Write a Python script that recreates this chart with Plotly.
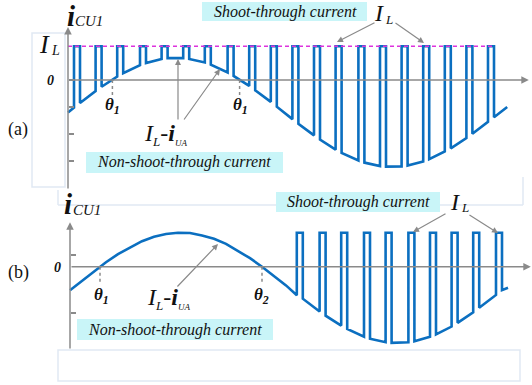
import plotly.graph_objects as go

W, H = 532, 385
SERIF = "Liberation Serif, Times New Roman, serif"
BLUE = "#0b6fc0"
GREY = "#8a8a8a"
CYAN = "#c9f5f8"

# ---- panel (a): shoot-through pulses over the whole period
# x = electrical angle (deg), y = current (one tick = 1 unit)
a_IL = 1.25
a_on = [5, 23, 41, 60, 78, 96, 114, 133, 151, 169, 187, 205, 223, 242, 260, 278, 296, 314, 332, 350]
a_off = [10, 28, 46, 65, 83, 101, 119, 138, 156, 174, 192, 210, 228, 247, 265, 283, 301, 319, 337, 355]
a_env_on = [-1.02, -0.41, 0.13, 0.55, 0.78, 0.81, 0.65, 0.28, -0.22, -0.81, -1.45, -2.05, -2.58, -2.98,
            -3.19, -3.20, -3.02, -2.65, -2.15, -1.55]
a_env_off = [-0.85, -0.25, 0.25, 0.63, 0.81, 0.78, 0.57, 0.15, -0.38, -0.99, -1.62, -2.21, -2.70, -3.06,
             -3.21, -3.17, -2.93, -2.53, -1.99, -1.38]
a_start = -1.20
a_stop_deg, a_stop = 366, -1.00
a_IL_span = [0, 354]
a_yticks = [0, -1, -2, -3]
a_theta = [37, 143]

# ---- panel (b): no shoot-through until theta2
b_IL = 1.0
b_sine_deg = [0, 10, 20, 30, 40, 50, 60, 70, 80, 90, 100, 110, 120, 130, 140, 150, 160, 170, 180]
b_sine = [-0.69, -0.41, -0.13, 0.13, 0.37, 0.57, 0.75, 0.88, 0.96, 1.00, 0.99, 0.92, 0.82, 0.67,
          0.47, 0.25, 0.00, -0.27, -0.55]
b_on = [189, 208, 226, 245, 263, 282, 300, 318, 336, 355]
b_off = [194, 213, 231, 250, 268, 287, 305, 323, 341, 360]
b_env_on = [-0.84, -1.32, -1.73, -2.06, -2.22, -2.22, -2.06, -1.76, -1.34, -0.83]
b_env_off = [-0.94, -1.44, -1.83, -2.12, -2.24, -2.19, -1.99, -1.65, -1.21, -0.69]
b_stop_deg, b_stop = 365, -0.62
b_yticks = [0.34, -1.35]
b_theta = [25, 160]


def pulse_train(xs, ys, on, off, env_on, env_off, il, stop_x, stop_y):
    xs, ys = list(xs), list(ys)
    for x0, x1, y0, y1 in zip(on, off, env_on, env_off):
        xs += [x0, x0, x1, x1]
        ys += [y0, il, il, y1]
    xs.append(stop_x)
    ys.append(stop_y)
    return xs, ys


ax_, ay_ = pulse_train([0], [a_start], a_on, a_off, a_env_on, a_env_off, a_IL, a_stop_deg, a_stop)
bx_, by_ = pulse_train(b_sine_deg, b_sine, b_on, b_off, b_env_on, b_env_off, b_IL, b_stop_deg, b_stop)

fig = go.Figure()
fig.add_trace(go.Scatter(x=ax_, y=ay_, mode="lines", line=dict(color=BLUE, width=2.6),
                         xaxis="x", yaxis="y", hoverinfo="skip"))
fig.add_trace(go.Scatter(x=a_IL_span, y=[a_IL, a_IL], mode="lines",
                         line=dict(color="#dd33dd", width=1.4, dash="4px,3px"),
                         xaxis="x", yaxis="y", hoverinfo="skip"))
fig.add_trace(go.Scatter(x=bx_, y=by_, mode="lines", line=dict(color=BLUE, width=2.6),
                         xaxis="x2", yaxis="y2", hoverinfo="skip"))


def px(x):
    return x / W


def py(y):
    return 1 - y / H


def txt(x, y, s, size, bold=False, italic=True):
    if italic:
        s = "<i>" + s + "</i>"
    if bold:
        s = "<b>" + s + "</b>"
    return dict(x=px(x), y=py(y), xref="paper", yref="paper", text=s, showarrow=False,
                xanchor="center", yanchor="middle",
                font=dict(family=SERIF, size=size, color="#111111"))


def arrow(x0, y0, x1, y1):
    return dict(x=px(x1), y=py(y1), xref="paper", yref="paper", ax=x0 - x1, ay=y0 - y1,
                text="", showarrow=True, arrowhead=2, arrowsize=1, arrowwidth=1.2,
                arrowcolor=GREY)


def axis_arrow(xr, yr, x0, y0, x1, y1):
    return dict(x=x1, y=y1, xref=xr, yref=yr, ax=x0, ay=y0, axref=xr, ayref=yr,
                text="", showarrow=True, arrowhead=2, arrowsize=1, arrowwidth=1.5,
                arrowcolor=GREY)


annotations = [
    axis_arrow("x", "y", 0, 0, 384, 0),
    axis_arrow("x", "y", 0, -4.07, 0, 1.96),
    axis_arrow("x2", "y2", 0, 0, 384, 0),
    axis_arrow("x2", "y2", 0, -2.45, 0, 1.31),
    # panel (a)
    txt(71, 16, "i", 29, bold=True),
    txt(89, 21, "CU1", 15),
    txt(44, 44, "I", 26),
    txt(55, 51, "L", 14),
    txt(50, 81, "0", 14, bold=True),
    txt(18, 129, "(a)", 18, italic=False),
    txt(112, 106, "θ<sub>1</sub>", 17, bold=True),
    txt(240, 106, "θ<sub>1</sub>", 17, bold=True),
    txt(165, 134, "I<sub><span style='font-size:13px'>L</span></sub>-<b>i</b>"
                  "<sub><span style='font-size:9px'>UA</span></sub>", 24),
    arrow(178, 121, 178, 59),
    arrow(183, 121, 220, 69),
    txt(184, 162, "Non-shoot-through current", 16),
    txt(285, 12, "Shoot-through current", 16),
    txt(379, 13, "I", 24),
    txt(389, 19, "L", 13),
    arrow(376, 22, 337, 42),
    arrow(394, 22, 424, 43),
    # panel (b)
    txt(68, 204, "i", 29, bold=True),
    txt(87, 210, "CU1", 15),
    txt(57, 267, "0", 14, bold=True),
    txt(18, 272, "(b)", 18, italic=False),
    txt(101, 296, "θ<sub>1</sub>", 17, bold=True),
    txt(261, 296, "θ<sub>2</sub>", 17, bold=True),
    txt(168, 298, "I<sub><span style='font-size:13px'>L</span></sub>-<b>i</b>"
                  "<sub><span style='font-size:9px'>UA</span></sub>", 24),
    arrow(176, 288, 218, 244),
    txt(175, 330, "Non-shoot-through current", 16),
    txt(358, 202, "Shoot-through current", 16),
    txt(455, 202, "I", 24),
    txt(465, 208, "L", 13),
    arrow(447, 213, 413, 232),
    arrow(468, 214, 498, 233),
]

FAINT = "#e1e9f3"
shapes = [
    dict(type="rect", xref="paper", yref="paper", x0=px(32), x1=px(65), y0=py(187), y1=py(33),
         line=dict(color=FAINT, width=1.5), layer="below"),
    dict(type="line", xref="paper", yref="paper", x0=px(58), x1=px(523), y0=py(205), y1=py(205),
         line=dict(color=FAINT, width=1.5), layer="below"),
    dict(type="line", xref="paper", yref="paper", x0=px(523), x1=px(523), y0=py(177), y1=py(205),
         line=dict(color=FAINT, width=1.5), layer="below"),
    dict(type="line", xref="paper", yref="paper", x0=px(58), x1=px(58), y0=py(190), y1=py(205),
         line=dict(color=FAINT, width=1.5), layer="below"),
    dict(type="rect", xref="paper", yref="paper", x0=px(58), x1=px(520), y0=py(381), y1=py(350),
         line=dict(color=FAINT, width=1.5), layer="below"),
    # text boxes
    dict(type="rect", xref="paper", yref="paper", x0=px(202), x1=px(367), y0=py(21), y1=py(2),
         fillcolor=CYAN, line=dict(width=0), layer="below"),
    dict(type="rect", xref="paper", yref="paper", x0=px(86), x1=px(283), y0=py(173), y1=py(152),
         fillcolor=CYAN, line=dict(width=0), layer="below"),
    dict(type="rect", xref="paper", yref="paper", x0=px(276), x1=px(440), y0=py(212), y1=py(192),
         fillcolor=CYAN, line=dict(width=0), layer="below"),
    dict(type="rect", xref="paper", yref="paper", x0=px(77), x1=px(273), y0=py(340), y1=py(319),
         fillcolor=CYAN, line=dict(width=0), layer="below"),
]
for t in a_theta:
    shapes.append(dict(type="line", xref="x", yref="y", x0=t, x1=t, y0=0, y1=-0.6,
                       line=dict(color=GREY, width=1.5, dash="dot")))
for t in b_theta:
    shapes.append(dict(type="line", xref="x2", yref="y2", x0=t, x1=t, y0=0, y1=-0.47,
                       line=dict(color=GREY, width=1.5, dash="dot")))

yax = dict(showgrid=False, zeroline=False, showline=False, showticklabels=False,
           ticks="inside", ticklen=5, tickwidth=1.5, tickcolor=GREY, anchor="free")

fig.update_layout(
    width=W, height=H,
    margin=dict(l=0, r=0, t=0, b=0),
    paper_bgcolor="white", plot_bgcolor="white",
    showlegend=False,
    xaxis=dict(domain=[0, 1], range=[-68 / 1.2, 464 / 1.2], visible=False),
    yaxis=dict(domain=[0.5, 1], range=[-4.167, 2.963], position=68 / W, tickvals=a_yticks, **yax),
    xaxis2=dict(domain=[0, 1], range=[-70 / 1.2, 462 / 1.2], visible=False, anchor="y2"),
    yaxis2=dict(domain=[0, 0.5], range=[-3.479, 2.182], position=70 / W, tickvals=b_yticks, **yax),
    annotations=annotations,
    shapes=shapes,
)

# page body has a default 8px margin; drop it so the 532x385 figure fills the window
fig.write_html("out.html", config={"displayModeBar": False},
               post_script="document.body.style.margin='0';")
